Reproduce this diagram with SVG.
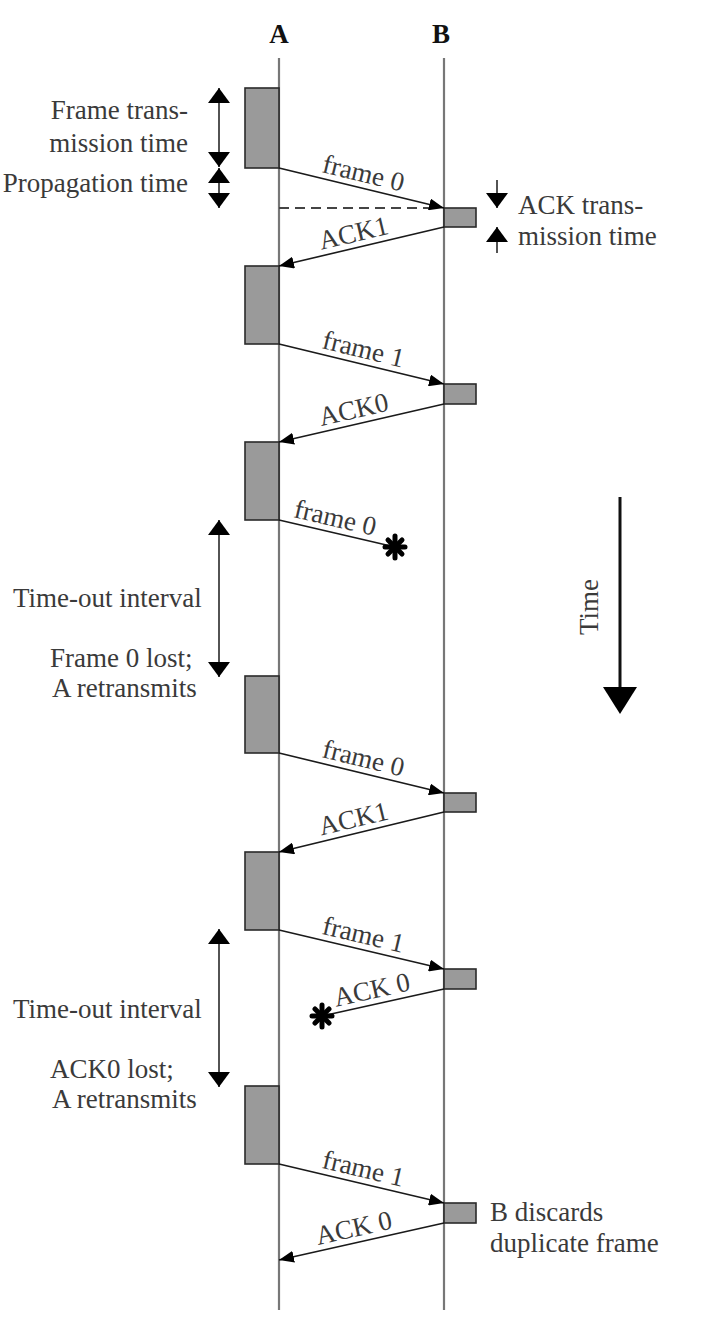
<svg xmlns="http://www.w3.org/2000/svg" width="706" height="1322" viewBox="0 0 706 1322">
<style>
text{font-family:"Liberation Serif","Times New Roman",serif;font-size:27px;fill:#3a3a3a}
.hdr{font-weight:bold;fill:#111;text-anchor:middle}
.life{stroke:#777;stroke-width:2.2;fill:none}
.box{fill:#9a9a9a;stroke:#2a2a2a;stroke-width:1.6}
.msg{stroke:#1a1a1a;stroke-width:1.6;fill:none}
.dim{stroke:#1a1a1a;stroke-width:1.5;fill:none}
.lbl{text-anchor:middle}
.end{text-anchor:end}
</style>
<defs>
<marker id="ah" markerUnits="userSpaceOnUse" markerWidth="15" markerHeight="12" refX="15" refY="6" orient="auto">
<path d="M0,0 L15,6 L0,12 Z" fill="#000"/>
</marker>
<marker id="dh" markerUnits="userSpaceOnUse" markerWidth="15" markerHeight="22" refX="15" refY="11" orient="auto">
<path d="M0,0 L15,11 L0,22 Z" fill="#000"/>
</marker>
<marker id="dhs" markerUnits="userSpaceOnUse" markerWidth="15" markerHeight="22" refX="0" refY="11" orient="auto">
<path d="M15,0 L0,11 L15,22 Z" fill="#000"/>
</marker>
<g id="starshape" stroke="#000" stroke-width="5" stroke-linecap="round">
<line x1="-10" y1="0" x2="10" y2="0"/>
<line x1="0" y1="-11" x2="0" y2="11"/>
<line x1="-7" y1="-7" x2="7" y2="7"/>
<line x1="-7" y1="7" x2="7" y2="-7"/>
</g>
</defs>

<g id="lifeline-A">
<text class="hdr" x="279" y="43">A</text>
<line class="life" x1="279" y1="58" x2="279" y2="1310"/>
</g>
<g id="lifeline-B">
<text class="hdr" x="441" y="43">B</text>
<line class="life" x1="444" y1="58" x2="444" y2="1310"/>
</g>

<g id="A-frames">
<rect class="box" x="245" y="88" width="34" height="80"/>
<rect class="box" x="245" y="266" width="34" height="78"/>
<rect class="box" x="245" y="442" width="34" height="78"/>
<rect class="box" x="245" y="676" width="34" height="77"/>
<rect class="box" x="245" y="852" width="34" height="78"/>
<rect class="box" x="245" y="1086" width="34" height="78"/>
</g>
<g id="B-acks">
<rect class="box" x="444" y="208" width="32" height="19"/>
<rect class="box" x="444" y="384" width="32" height="20"/>
<rect class="box" x="444" y="793" width="32" height="19"/>
<rect class="box" x="444" y="969" width="32" height="20"/>
<rect class="box" x="444" y="1203" width="32" height="20"/>
</g>

<g id="connectors">
<line x1="279" y1="208" x2="438" y2="208" stroke="#444" stroke-width="2" stroke-dasharray="10,6"/>
<line class="msg" x1="279" y1="168" x2="444" y2="208" marker-end="url(#ah)"/>
<line class="msg" x1="444" y1="227" x2="279" y2="266" marker-end="url(#ah)"/>
<line class="msg" x1="279" y1="344" x2="444" y2="384" marker-end="url(#ah)"/>
<line class="msg" x1="444" y1="404" x2="279" y2="442" marker-end="url(#ah)"/>
<line class="msg" x1="279" y1="520" x2="395" y2="547"/>
<line class="msg" x1="279" y1="753" x2="444" y2="793" marker-end="url(#ah)"/>
<line class="msg" x1="444" y1="812" x2="279" y2="852" marker-end="url(#ah)"/>
<line class="msg" x1="279" y1="930" x2="444" y2="969" marker-end="url(#ah)"/>
<line class="msg" x1="444" y1="989" x2="322" y2="1016"/>
<line class="msg" x1="279" y1="1164" x2="444" y2="1203" marker-end="url(#ah)"/>
<line class="msg" x1="444" y1="1223" x2="279" y2="1260" marker-end="url(#ah)"/>
</g>

<g id="message-labels">
<text class="lbl" transform="translate(360,187.6) rotate(13.6)" y="-6">frame 0</text>
<text class="lbl" transform="translate(357,247.6) rotate(-13.3)" y="-6">ACK1</text>
<text class="lbl" transform="translate(360,363.6) rotate(13.6)" y="-6">frame 1</text>
<text class="lbl" transform="translate(357,424) rotate(-13)" y="-6">ACK0</text>
<text class="lbl" transform="translate(332,532.3) rotate(13.1)" y="-6">frame 0</text>
<text class="lbl" transform="translate(360,772.6) rotate(13.6)" y="-6">frame 0</text>
<text class="lbl" transform="translate(357,833.1) rotate(-13.6)" y="-6">ACK1</text>
<text class="lbl" transform="translate(360,949.1) rotate(13.3)" y="-6">frame 1</text>
<text class="lbl" transform="translate(375,1004.3) rotate(-12.5)" y="-6">ACK 0</text>
<text class="lbl" transform="translate(360,1183.1) rotate(13.3)" y="-6">frame 1</text>
<text class="lbl" transform="translate(357,1242.5) rotate(-12.6)" y="-6">ACK 0</text>
</g>

<g id="lost-markers">
<use href="#starshape" x="395" y="547"/>
<use href="#starshape" x="322" y="1016"/>
</g>

<g id="timing-annotations">
<line class="dim" x1="219" y1="88" x2="219" y2="167" marker-start="url(#dhs)" marker-end="url(#dh)"/>
<line class="dim" x1="219" y1="168" x2="219" y2="208" marker-start="url(#dhs)" marker-end="url(#dh)"/>
<text class="end" x="188" y="119">Frame trans-</text>
<text class="end" x="188" y="152">mission time</text>
<text class="end" x="188" y="192">Propagation time</text>

<line class="dim" x1="497" y1="180" x2="497" y2="208" marker-end="url(#dh)"/>
<line class="dim" x1="497" y1="253" x2="497" y2="227" marker-end="url(#dh)"/>
<text x="518" y="214">ACK trans-</text>
<text x="518" y="245">mission time</text>

<line class="dim" x1="219" y1="520" x2="219" y2="677" marker-start="url(#dhs)" marker-end="url(#dh)"/>
<text x="13" y="607">Time-out interval</text>
<text x="50" y="667">Frame 0 lost;</text>
<text x="52" y="697">A retransmits</text>

<line class="dim" x1="219" y1="929" x2="219" y2="1087" marker-start="url(#dhs)" marker-end="url(#dh)"/>
<text x="13" y="1018">Time-out interval</text>
<text x="50" y="1078">ACK0 lost;</text>
<text x="52" y="1108">A retransmits</text>

<text x="490" y="1221">B discards</text>
<text x="490" y="1252">duplicate frame</text>
</g>

<g id="time-axis">
<line x1="620" y1="497" x2="620" y2="690" stroke="#111" stroke-width="3"/>
<path d="M603,687 L637,687 L620,714 Z" fill="#000"/>
<text class="lbl" transform="translate(598,607) rotate(-90)">Time</text>
</g>
</svg>
